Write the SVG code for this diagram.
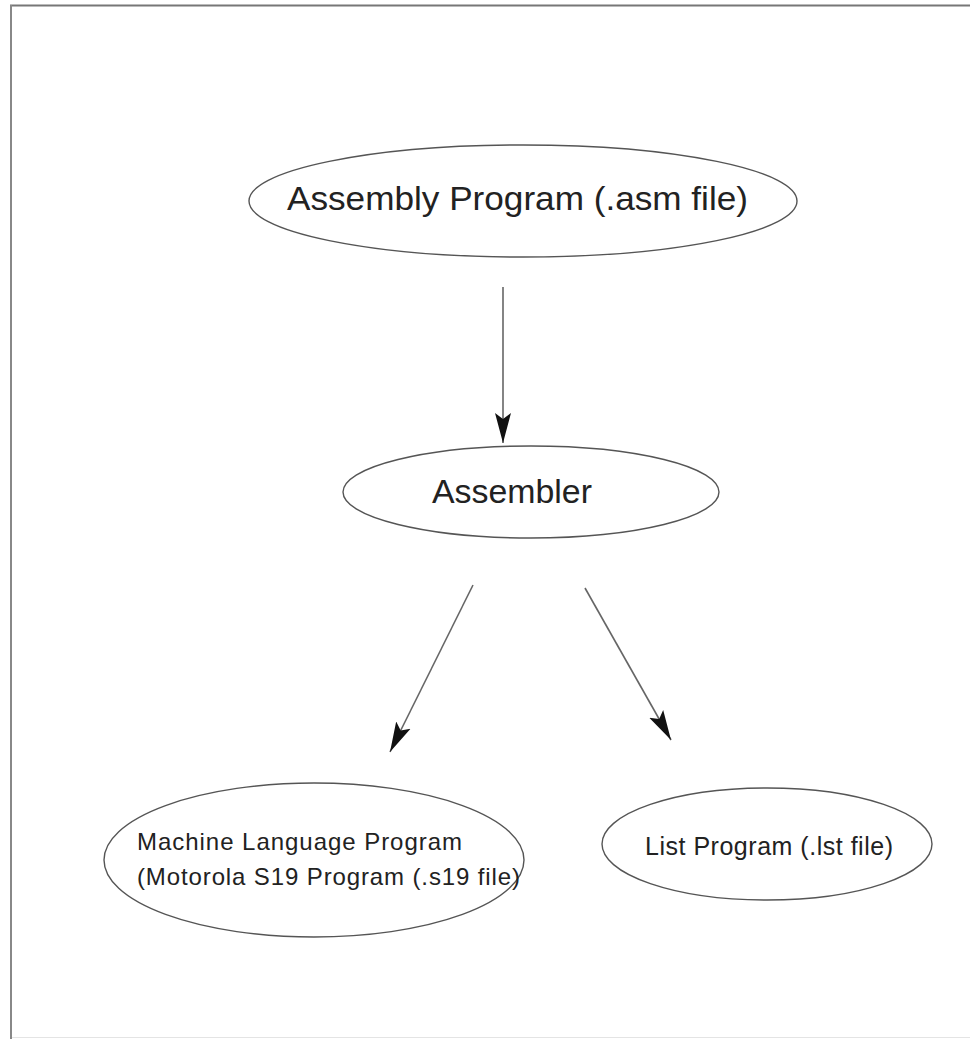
<svg xmlns="http://www.w3.org/2000/svg" width="970" height="1039" viewBox="0 0 970 1039">
<defs>
<marker id="ah" markerUnits="userSpaceOnUse" markerWidth="32" markerHeight="20" viewBox="0 0 32 20" refX="30" refY="10" orient="auto">
<path d="M0,2 L30,10 L0,18 L6,10 Z" fill="#111"/>
</marker>
</defs>
<style>
.node ellipse{fill:#fff;stroke:#555;stroke-width:1.4}
.node text{font-family:"Liberation Sans",Arial,sans-serif;fill:#222;text-anchor:start}
.edge{stroke:#666;stroke-width:1.6;fill:none;marker-end:url(#ah)}
</style>
<rect x="0" y="0" width="970" height="1039" fill="#fff"/>
<g id="frame" fill="none">
<line x1="10" y1="5.5" x2="970" y2="5.5" stroke="#777" stroke-width="2"/>
<line x1="11" y1="5" x2="11" y2="1039" stroke="#888" stroke-width="2"/>
<line x1="12" y1="1037.5" x2="970" y2="1037.5" stroke="#e4e4e4" stroke-width="1"/>
</g>
<g id="connectors">
<line class="edge" x1="503" y1="287" x2="503" y2="443"/>
<line class="edge" x1="473" y1="585" x2="390" y2="752"/>
<line class="edge" x1="585" y1="588" x2="671" y2="740"/>
</g>
<g id="n_asm" class="node">
<ellipse cx="523" cy="201" rx="274" ry="56"/>
<text x="287" y="210" font-size="33" textLength="461" lengthAdjust="spacingAndGlyphs">Assembly Program (.asm file)</text>
</g>
<g id="n_assembler" class="node">
<ellipse cx="531" cy="492" rx="188" ry="46"/>
<text x="432" y="503" font-size="33" textLength="160" lengthAdjust="spacingAndGlyphs">Assembler</text>
</g>
<g id="n_s19" class="node">
<ellipse cx="314" cy="860" rx="210" ry="77"/>
<text x="137" y="850" font-size="24" textLength="325" lengthAdjust="spacing">Machine Language Program</text>
<text x="137" y="885" font-size="24" textLength="383" lengthAdjust="spacing">(Motorola S19 Program (.s19 file)</text>
</g>
<g id="n_lst" class="node">
<ellipse cx="767" cy="844" rx="165" ry="56"/>
<text x="645" y="855" font-size="25" textLength="248" lengthAdjust="spacing">List Program (.lst file)</text>
</g>
</svg>
